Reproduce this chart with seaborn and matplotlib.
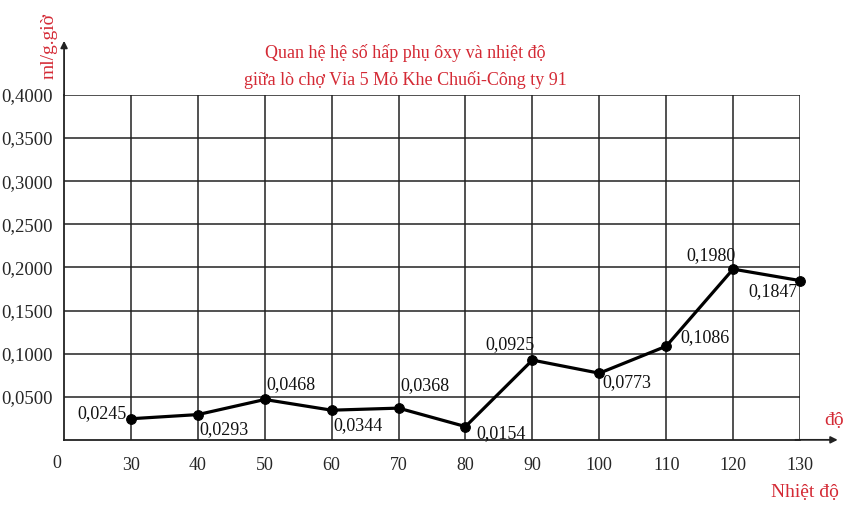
import numpy as np
import pandas as pd
import seaborn as sns
import matplotlib.pyplot as plt

# du lieu doc tu hinh
nhiet_do = [30, 40, 50, 60, 70, 80, 90, 100, 110, 120, 130]
he_so = [0.0245, 0.0293, 0.0468, 0.0344, 0.0368, 0.0154, 0.0925, 0.0773, 0.1086, 0.1980, 0.1847]
y_ticks = [0.05, 0.10, 0.15, 0.20, 0.25, 0.30, 0.35, 0.40]

sns.set_style("white")
plt.rcParams['font.family'] = ['Liberation Serif', 'DejaVu Serif']
red = '#d42a35'

df = pd.DataFrame({'pos': np.arange(1, len(nhiet_do) + 1), 'val': he_so})

fig = plt.figure(figsize=(8.43, 5.05), dpi=100)
ax = fig.add_axes([0.076, 0.129, 0.873, 0.683])

# luoi
for y in y_ticks:
    ax.axhline(y, color='#222222', lw=1.1, zorder=1)
for x in df['pos']:
    ax.axvline(x, ymax=1, color='#222222', lw=1.1, zorder=1)

sns.lineplot(data=df, x='pos', y='val', color='black', lw=2.3, marker='o',
             markersize=7, markeredgecolor='black', ax=ax, zorder=3, clip_on=False)

ax.set_xlim(0, 11)
ax.set_ylim(0, 0.4)
ax.set_xticks(df['pos'])
ax.set_xticklabels([str(t) for t in nhiet_do], fontsize=13)
ax.set_yticks(y_ticks)
ax.set_yticklabels([('%.4f' % v).replace('.', ',') for v in y_ticks], fontsize=13.5)
ax.tick_params(length=0, pad=8)
ax.tick_params(axis='x', pad=12)
ax.set_xlabel('')
ax.set_ylabel('')
for s in ['top', 'right']:
    ax.spines[s].set_visible(False)
ax.spines['left'].set_linewidth(1.3)
ax.spines['bottom'].set_linewidth(1.3)
ax.spines['left'].set_color('#222222')
ax.spines['bottom'].set_color('#222222')

# mui ten truc
ax.annotate('', xy=(0, 1.165), xytext=(0, 0.99), xycoords='axes fraction',
            arrowprops=dict(arrowstyle='-|>', color='#222222', lw=1.3, mutation_scale=10),
            annotation_clip=False)
ax.annotate('', xy=(1.055, 0), xytext=(0.99, 0), xycoords='axes fraction',
            arrowprops=dict(arrowstyle='-|>', color='#222222', lw=1.3, mutation_scale=10),
            annotation_clip=False)

# nhan gia tri (offset theo diem)
offsets = [(-3, 4, 'right'), (1, -11, 'left'), (1, 11, 'left'), (1, -11, 'left'),
           (1, 16, 'left'), (8, -5, 'left'), (-16, 11, 'center'), (2, -7, 'left'),
           (10, 6, 'left'), (-16, 10, 'center'), (-2, -8, 'right')]
for (x, y), (dx, dy, ha) in zip(df[['pos', 'val']].values, offsets):
    ax.annotate(('%.4f' % y).replace('.', ','), (x, y), xytext=(dx, dy),
                textcoords='offset points', ha=ha, va='center', fontsize=13,
                color='#111111', zorder=4)

fig.text(57 / 843, 1 - 463 / 505, '0', ha='center', va='center', fontsize=13)
fig.text(405 / 843, 1 - 53 / 505, 'Quan hệ hệ số hấp phụ ôxy và nhiệt độ',
         ha='center', va='center', fontsize=13, color=red)
fig.text(405 / 843, 1 - 80 / 505, 'giữa lò chợ Vỉa 5 Mỏ Khe Chuối-Công ty 91',
         ha='center', va='center', fontsize=13, color=red)
fig.text(49 / 843, 1 - 46 / 505, 'ml/g.giờ', rotation=90, ha='center', va='center',
         fontsize=14, color=red)
fig.text(834 / 843, 1 - 420 / 505, 'độ', ha='center', va='center', fontsize=14, color=red)
fig.text(805 / 843, 1 - 492 / 505, 'Nhiệt độ', ha='center', va='center', fontsize=14, color=red)

fig.savefig('out.png', dpi=100)
